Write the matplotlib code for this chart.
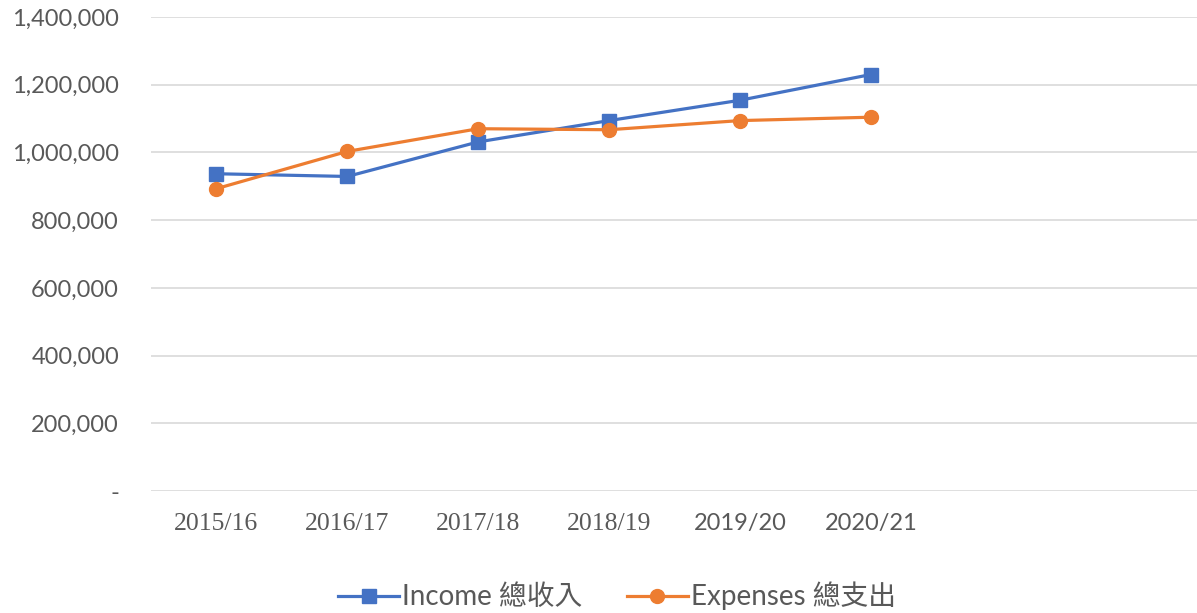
import matplotlib
matplotlib.use("Agg")
import matplotlib.pyplot as plt
from matplotlib.ticker import FuncFormatter

years = ["2015/16", "2016/17", "2017/18", "2018/19", "2019/20", "2020/21"]
income = [937000, 929000, 1031000, 1094000, 1154000, 1230000]
expenses = [893000, 1003000, 1070000, 1067000, 1094000, 1104000]
n_slots = 8  # axis keeps two empty category slots on the right

text_col = "#595959"
sans = ["Lato", "Noto Sans CJK TC", "DejaVu Sans"]

fig = plt.figure(figsize=(11.97, 6.13), dpi=100)
ax = fig.add_axes([151 / 1197, 0.199, 1047 / 1197, 0.7733])

x = list(range(len(years)))
ax.plot(x, income, color="#4472C4", lw=2.3, marker="s", markersize=10,
        label="Income 總收入", zorder=3)
ax.plot(x, expenses, color="#ED7D31", lw=2.3, marker="o", markersize=10,
        label="Expenses 總支出", zorder=3)

ax.set_xlim(-0.5, n_slots - 0.5)
ax.set_ylim(0, 1400000)
ax.set_yticks(range(0, 1400001, 200000))
ax.yaxis.set_major_formatter(FuncFormatter(lambda v, p: "-" if v == 0 else f"{int(v):,}"))
ax.grid(axis="y", color="#d9d9d9", lw=1.2)
ax.set_axisbelow(True)
for s in ax.spines.values():
    s.set_visible(False)
ax.tick_params(length=0, colors=text_col)
ax.tick_params(axis="y", pad=23)
ax.tick_params(axis="x", pad=16)

ax.set_xticks(x)
ax.set_xticklabels(years)
for i, lab in enumerate(ax.get_xticklabels()):
    if i < 4:
        lab.set_family("Liberation Serif")
        lab.set_fontsize(18.5)
    else:
        lab.set_family(sans)
        lab.set_fontsize(17)
    lab.set_color(text_col)
for lab in ax.get_yticklabels():
    lab.set_family(sans)
    lab.set_fontsize(17)
    lab.set_color(text_col)

leg = ax.legend(loc="lower center", bbox_to_anchor=(0.445, -0.275), ncol=2, frameon=False,
                prop={"family": sans, "size": 20}, handlelength=2.2,
                handletextpad=0.1, columnspacing=1.6, borderaxespad=0)
for t in leg.get_texts():
    t.set_color(text_col)

fig.savefig("out.png", dpi=100)
